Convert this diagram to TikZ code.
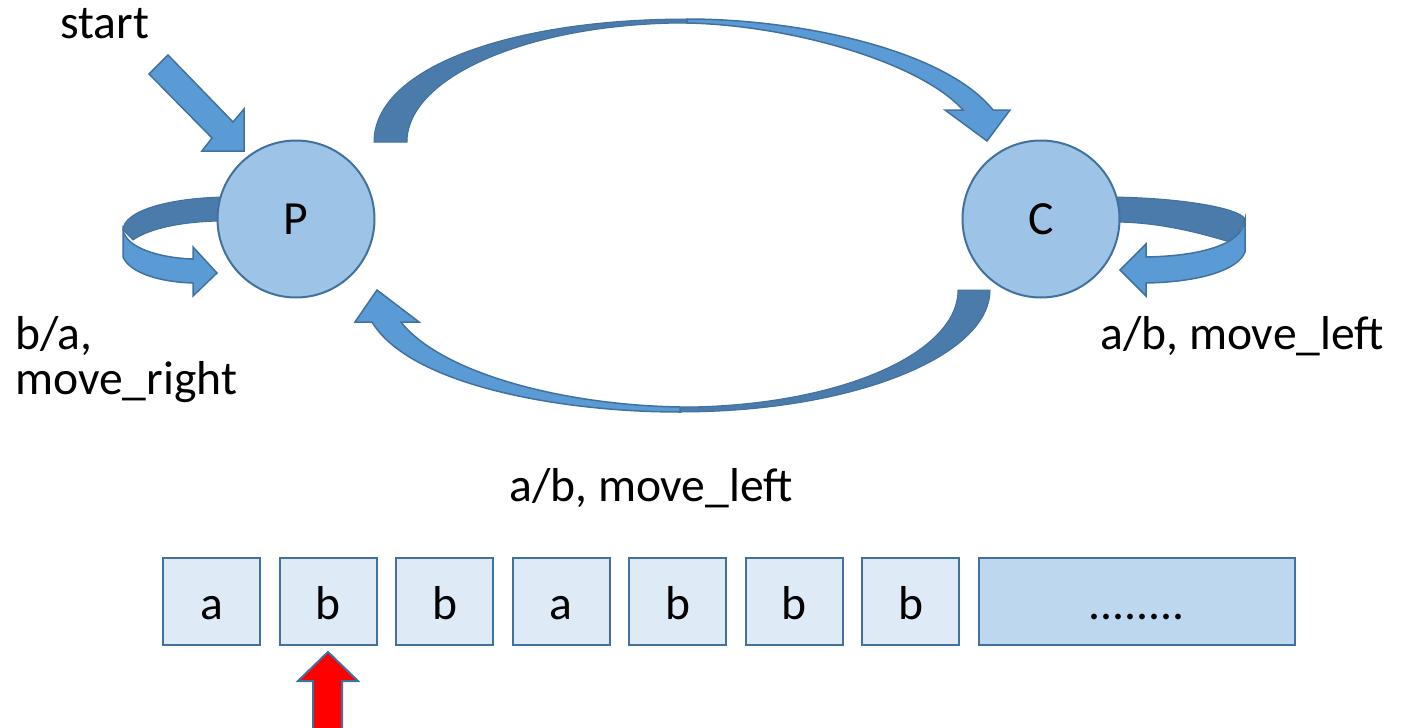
\documentclass[tikz,border=0pt]{standalone}
\usepackage{fontspec}
\setmainfont{Carlito}
\definecolor{edgeblue}{HTML}{41719C}
\definecolor{stateblue}{HTML}{9DC3E6}
\definecolor{arrowlight}{HTML}{5B9BD5}
\definecolor{arrowdark}{HTML}{4A7BAA}
\definecolor{cellfill}{HTML}{DEEBF7}
\definecolor{restfill}{HTML}{BDD7EE}
\newcommand\lblfont{\fontsize{47.6}{45}\selectfont}
\tikzset{
  state/.style={circle, draw=edgeblue, fill=stateblue, line width=2pt,
    minimum size=157pt, inner sep=0pt, font=\lblfont},
  cell/.style={rectangle, draw=edgeblue, fill=cellfill, line width=2pt,
    minimum width=97pt, minimum height=87pt, text height=36pt, text depth=0pt,
    inner sep=0pt, font=\lblfont},
  restcell/.style={cell, fill=restfill, minimum width=316pt},
  lbltext/.style={anchor=base west, inner sep=0pt, font=\lblfont, align=left},
  lightband/.style={fill=arrowlight, draw=edgeblue, line width=1.5pt, line join=miter},
  darkband/.style={fill=arrowdark, draw=edgeblue, line width=1pt},
  headarrow/.style={fill=red, draw=edgeblue, line width=2pt, line join=miter}
}
\begin{document}
\begin{tikzpicture}[x=1pt, y=-1pt]
\useasboundingbox (0,0) rectangle (1414,728);

% start arrow
\draw[lightband] (168,55) -- (233,122) -- (244,109) -- (244,151) -- (202,151)
  -- (212,138) -- (149,74) -- cycle;

% self loop on P: back face, then front face with head
\draw[darkband] (225,197) .. controls (165,198) and (123,212) .. (123,230)
  -- (133,240) .. controls (150,228) and (185,221) .. (225,221) -- cycle;
\draw[lightband] (123,230) -- (123,257) .. controls (130,273) and (160,282) .. (193,283)
  -- (193,296) -- (217,273) -- (193,247) -- (193,259)
  .. controls (160,258) and (126,248) .. (123,230) -- cycle;

% self loop on C
\draw[darkband] (1112,197) .. controls (1190,198) and (1245,210) .. (1245,220)
  -- (1233,243) .. controls (1200,233) and (1160,222) .. (1112,222) -- cycle;
\draw[lightband] (1245,220) -- (1245,252) .. controls (1238,270) and (1200,282) .. (1146,283)
  -- (1146,296) -- (1120,270) -- (1146,244) -- (1146,257)
  .. controls (1200,256) and (1242,245) .. (1245,220) -- cycle;

% upper arc P -> C
\draw[darkband] (374,142) .. controls (374,68) and (510,19) .. (687,19)
  -- (687,23) .. controls (532,23) and (407,76) .. (407,142) -- cycle;
\draw[lightband] (687,19) .. controls (800,19) and (945,50) .. (993,110)
  -- (1010,110) -- (987,141) -- (945,110) -- (963,110)
  .. controls (920,62) and (790,25) .. (687,23) -- cycle;

% lower arc C -> P
\draw[darkband] (990,290) .. controls (990,357) and (851,412) .. (680,412)
  -- (680,407) .. controls (834,407) and (958,355) .. (958,290) -- cycle;
\draw[lightband] (680,412) .. controls (560,412) and (410,385) .. (372,322)
  -- (355,322) -- (377,290) -- (419,322) -- (401,322)
  .. controls (440,372) and (560,405) .. (680,407) -- cycle;

% states
\node[state] (P) at (296,219) {P};
\node[state] (C) at (1041,219) {C};

% labels
\node[lbltext] (startlbl) at (60,38) {start};
\node[lbltext] (loopP) at (15,394) {b/a,\\move\_right};
\node[lbltext] (loopC) at (1100,349) {a/b, move\_left};
\node[lbltext] (back) at (509,501) {a/b, move\_left};

% tape
\node[cell] (t1) at (211.5,601) {a};
\node[cell] (t2) at (328,601) {b};
\node[cell] (t3) at (444.5,601) {b};
\node[cell] (t4) at (561,601) {a};
\node[cell] (t5) at (677.5,601) {b};
\node[cell] (t6) at (794,601) {b};
\node[cell] (t7) at (910.5,601) {b};
\node[restcell] (rest) at (1137,601) {........};

% head position marker
\draw[headarrow] (313,740) -- (313,681) -- (298,681) -- (328,652) -- (358,681)
  -- (342,681) -- (342,740);
\end{tikzpicture}
\end{document}
